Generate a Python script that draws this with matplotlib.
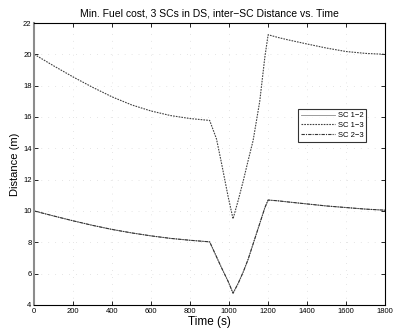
import matplotlib
matplotlib.use("Agg")
from matplotlib import pyplot

# time samples (s)
time_s = [0, 100, 200, 300, 400, 500, 600, 700, 800, 900, 935, 960, 995, 1020,
          1047, 1072, 1097, 1123, 1157, 1183, 1200, 1250, 1300, 1400, 1500, 1600, 1700, 1800]

# inter-SC distances (m)
sc12 = [10.0, 9.68, 9.37, 9.08, 8.82, 8.60, 8.41, 8.25, 8.13, 8.03, 7.08, 6.4, 5.5, 4.75,
        5.4, 6.1, 6.9, 7.9, 9.2, 10.2, 10.7, 10.65, 10.58, 10.45, 10.32, 10.22, 10.12, 10.05]
sc13 = [20.0, 19.26, 18.55, 17.89, 17.28, 16.77, 16.38, 16.09, 15.90, 15.78, 14.6, 13.1, 10.9, 9.5,
        10.7, 11.9, 13.2, 14.5, 17.0, 19.8, 21.25, 21.08, 20.93, 20.66, 20.40, 20.18, 20.06, 20.0]
sc23 = [10.0, 9.68, 9.37, 9.08, 8.82, 8.60, 8.41, 8.25, 8.13, 8.03, 7.08, 6.4, 5.5, 4.75,
        5.4, 6.1, 6.9, 7.9, 9.2, 10.2, 10.7, 10.65, 10.58, 10.45, 10.32, 10.22, 10.12, 10.05]

labels = ["SC 1\u22122", "SC 1\u22123", "SC 2\u22123"]
xticks = list(range(0, 1801, 200))
yticks = list(range(4, 23, 2))

pyplot.rcParams["font.family"] = ["Liberation Sans", "DejaVu Sans"]

fig = pyplot.figure(figsize=(3.93, 3.30), dpi=100)
ax = fig.add_axes([0.0873, 0.0758, 0.8924, 0.8545])

ax.plot(time_s, sc12, color="0.55", linewidth=0.6, linestyle="-", label=labels[0])
ax.plot(time_s, sc13, color="0.25", linewidth=0.8, linestyle=(0, (1.5, 1)), label=labels[1])
ax.plot(time_s, sc23, color="0.2", linewidth=0.8, linestyle=(0, (3, 1, 1, 1)), label=labels[2])

ax.set_xlim(0, 1800)
ax.set_ylim(4, 22)
ax.set_xticks(xticks)
ax.set_yticks(yticks)
ax.tick_params(direction="in", length=3, width=0.6, labelsize=5.5, top=True, right=True, pad=2)
ax.grid(True, color="0.8", linestyle=(0, (1, 9)), linewidth=0.5)
for s in ax.spines.values():
    s.set_linewidth(0.8)
ax.spines["left"].set_color("0.55")
ax.spines["left"].set_linewidth(1.5)

ax.set_title("Min. Fuel cost, 3 SCs in DS, inter\u2212SC Distance vs. Time", fontsize=7.5, pad=5)
ax.set_xlabel("Time (s)", fontsize=8.5, labelpad=1)
ax.set_ylabel("Distance (m)", fontsize=8, labelpad=2)

leg = ax.legend(loc="upper left", bbox_to_anchor=(0.752, 0.695), fontsize=5.5, frameon=True,
                fancybox=False, edgecolor="black", handlelength=4.5, handletextpad=0.3,
                borderpad=0.4, labelspacing=0.3, borderaxespad=0)
leg.get_frame().set_linewidth(0.8)

fig.savefig("out.png", dpi=100)
